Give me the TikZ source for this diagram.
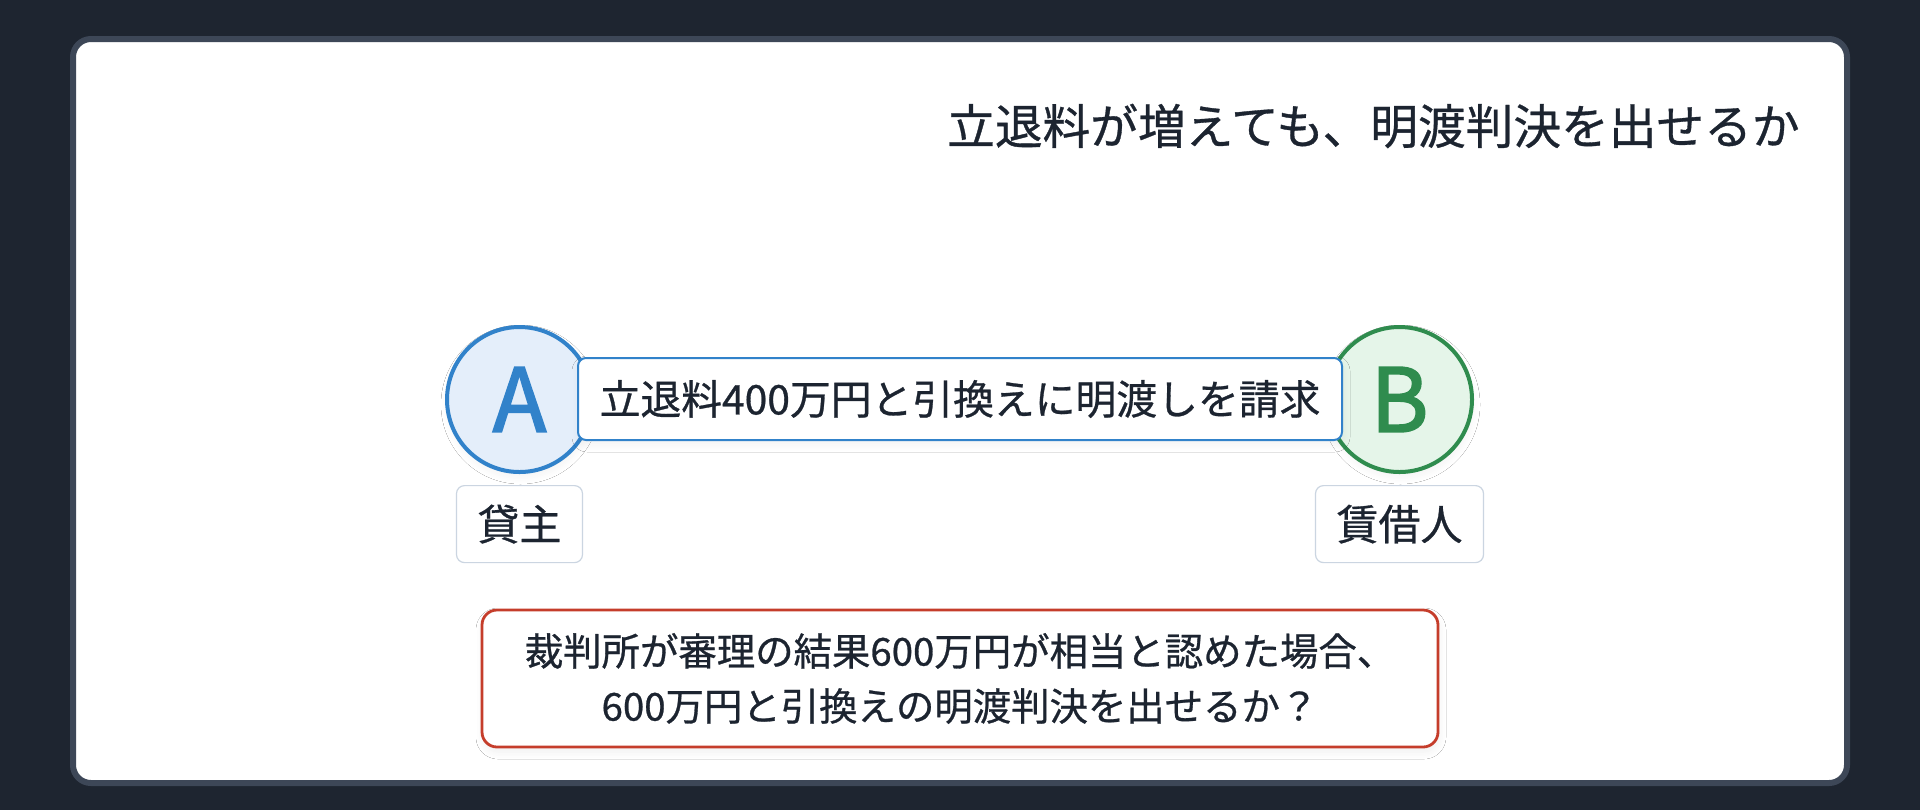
\documentclass[tikz,border=0pt]{standalone}
\usepackage{fontspec}
\setmainfont{Noto Sans CJK JP}[FakeBold=0.7]
\newfontfamily\letterfont{Noto Sans CJK JP}[FakeBold=2.2]
\usetikzlibrary{positioning,shadows.blur}

\definecolor{pagebg}{HTML}{1E2530}
\definecolor{cardline}{HTML}{3D4757}
\definecolor{inkdark}{HTML}{1C2430}
\definecolor{lessorblue}{HTML}{3182CA}
\definecolor{lessorfill}{HTML}{E4EEFA}
\definecolor{lesseegreen}{HTML}{2F8C4E}
\definecolor{lesseefill}{HTML}{E5F5E9}
\definecolor{roleline}{HTML}{CBD5E1}
\definecolor{askred}{HTML}{C53D2B}

\begin{document}
\begin{tikzpicture}[
  x=0.5pt, y=-0.5pt,
  softshadow/.style={blur shadow={shadow xshift=0.5pt, shadow yshift=-2.5pt, shadow blur radius=3.5pt,
    shadow blur steps=12, shadow opacity=#1}},
  heading/.style={anchor=east, inner sep=0pt, text=inkdark, font=\fontsize{23.85pt}{28pt}\selectfont},
  party/.style={circle, line width=2pt, minimum size=72.5pt, inner sep=0pt,
    font=\letterfont\fontsize{44pt}{44pt}\selectfont, softshadow=5},
  claimbox/.style={draw=lessorblue, fill=white, line width=1pt, rounded corners=4pt,
    minimum width=382pt, minimum height=41pt, inner sep=0pt, text=inkdark,
    font=\fontsize{20.4pt}{24pt}\selectfont, softshadow=5},
  rolebox/.style={draw=roleline, fill=white, line width=0.6pt, rounded corners=4pt,
    minimum height=38.5pt, inner xsep=10.5pt, inner ysep=0pt, text=inkdark,
    font=\fontsize{21pt}{24pt}\selectfont},
  askbox/.style={draw=askred, fill=white, line width=1.4pt, rounded corners=7.5pt,
    minimum width=478pt, minimum height=68.5pt, inner sep=0pt, align=center, text=inkdark,
    font=\fontsize{19.2pt}{27.5pt}\selectfont, softshadow=6}
]

\useasboundingbox (0,0) rectangle (1920,810);

% Card
\fill[pagebg] (0,0) rectangle (1920,810);
\draw[cardline, fill=white, line width=3pt, rounded corners=9pt] (73,39) rectangle (1847,783);

% Title
\node[heading] (title) at (1800,126) {立退料が増えても、明渡判決を出せるか};

% Parties
\node[party, draw=lessorblue, fill=lessorfill, text=lessorblue] (lessor) at (519.5,399.5) {A};
\node[party, draw=lesseegreen, fill=lesseefill, text=lesseegreen] (lessee) at (1399.5,399.5) {B};

% Claim between the parties
\node[claimbox] (claim) at (960,399) {立退料400万円と引換えに明渡しを請求};

% Role labels
\node[rolebox, below=5.5pt of lessor] (lessorrole) {貸主};
\node[rolebox, below=5.5pt of lessee] (lesseerole) {賃借人};

% Question
\node[askbox] (question) at (960,678.5) {裁判所が審理の結果600万円が相当と認めた場合、\\600万円と引換えの明渡判決を出せるか？};

\end{tikzpicture}
\end{document}
